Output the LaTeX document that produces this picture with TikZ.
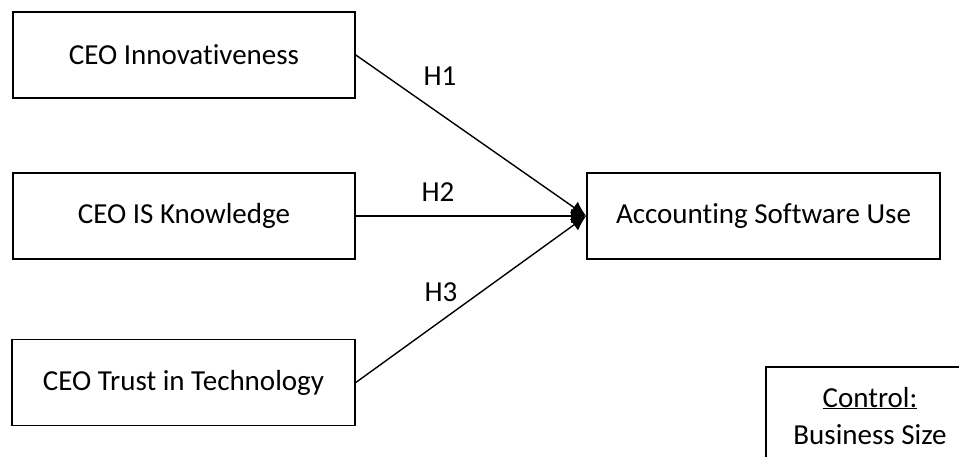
\documentclass[tikz,border=0pt]{standalone}
\usepackage{fontspec}
\setmainfont[Ligatures={NoCommon}]{Carlito}
\usetikzlibrary{arrows.meta}
\begin{document}
\begin{tikzpicture}[x=1pt,y=-1pt,
  box/.style={draw,line width=1.6pt,minimum height=86pt,inner sep=0pt,font=\fontsize{29}{33}\selectfont},
  conn/.style={line width=1.4pt,-{Latex[length=15pt,width=14pt]}},
  hyp/.style={font=\fontsize{29}{33}\selectfont,inner sep=0pt}]
\useasboundingbox (0,0) rectangle (959,457);
\clip (0,0) rectangle (959,457);
\node[box,minimum width=342pt] (inn) at (184,55) {CEO Innovativeness};
\node[box,minimum width=342pt] (know) at (184,216) {CEO IS Knowledge};
\node[box,minimum width=343pt] (trust) at (183.5,382.5) {CEO Trust in Technology};
\node[box,minimum width=353pt] (acc) at (763.5,216) {Accounting Software Use};
\draw[line width=1.6pt] (974,467) -- (766,467) -- (766,367) coordinate (ctl) -- (974,367);
\node[hyp,anchor=base] (ctla) at (870,407) {\underline{Control:}};
\node[hyp,anchor=base] (ctlb) at (870,444) {Business Size};
\draw[conn] (inn.east) -- (acc.west);
\draw[conn] (know.east) -- (acc.west);
\draw[conn] (trust.east) -- (acc.west);
\node[hyp] (h1) at (440,76) {H1};
\node[hyp] (h2) at (438,192) {H2};
\node[hyp] (h3) at (441,292) {H3};
\end{tikzpicture}
\end{document}
